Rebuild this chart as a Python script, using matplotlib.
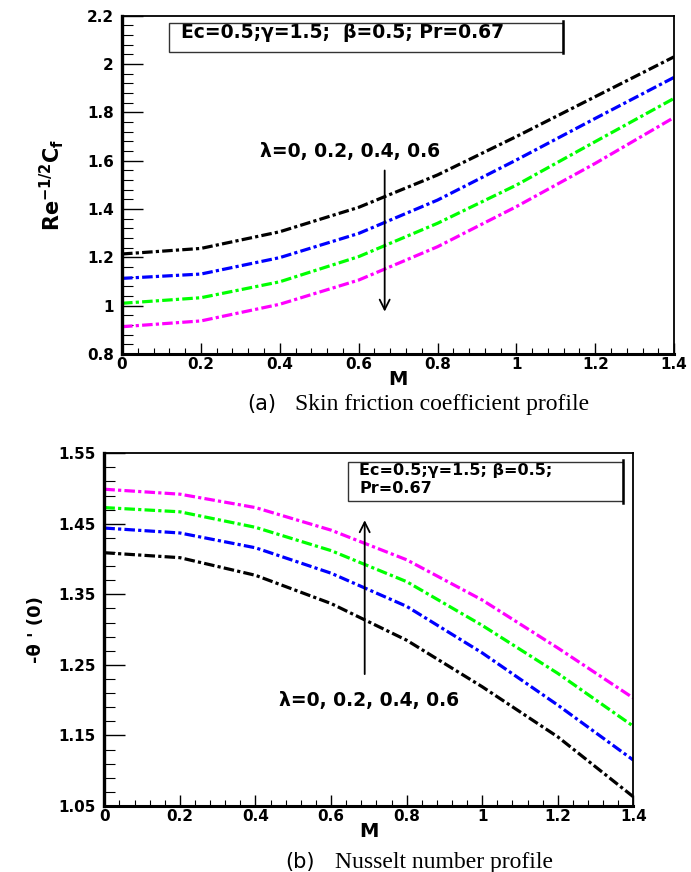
import matplotlib.pyplot as plt
from matplotlib.patches import Rectangle

# M values shared by both panels
M = [0, 0.2, 0.4, 0.6, 0.8, 1.0, 1.2, 1.4]
lam_labels = ["0", "0.2", "0.4", "0.6"]
colors = ["black", "#0000ff", "#00ff00", "#ff00ff"]

# (a) skin friction, one list per lambda
cf_lam0 = [1.214, 1.237, 1.306, 1.407, 1.541, 1.700, 1.865, 2.030]
cf_lam2 = [1.113, 1.131, 1.199, 1.299, 1.437, 1.603, 1.775, 1.945]
cf_lam4 = [1.010, 1.033, 1.099, 1.203, 1.341, 1.499, 1.679, 1.858]
cf_lam6 = [0.913, 0.937, 1.006, 1.106, 1.244, 1.410, 1.589, 1.779]

# (b) Nusselt number, one list per lambda
nu_lam0 = [1.409, 1.402, 1.377, 1.337, 1.285, 1.219, 1.148, 1.063]
nu_lam2 = [1.444, 1.437, 1.416, 1.380, 1.333, 1.267, 1.193, 1.115]
nu_lam4 = [1.473, 1.467, 1.445, 1.412, 1.368, 1.306, 1.238, 1.163]
nu_lam6 = [1.499, 1.492, 1.473, 1.441, 1.399, 1.342, 1.274, 1.203]

xtick_vals = [0, 0.2, 0.4, 0.6, 0.8, 1.0, 1.2, 1.4]
xtick_labels = ["0", "0.2", "0.4", "0.6", "0.8", "1", "1.2", "1.4"]
ytick_a = [0.8, 1.0, 1.2, 1.4, 1.6, 1.8, 2.0, 2.2]
ytick_a_labels = ["0.8", "1", "1.2", "1.4", "1.6", "1.8", "2", "2.2"]
ytick_b = [1.05, 1.15, 1.25, 1.35, 1.45, 1.55]
ytick_b_labels = ["1.05", "1.15", "1.25", "1.35", "1.45", "1.55"]

plt.rcParams['font.family'] = ['DejaVu Sans']
plt.rcParams['mathtext.fontset'] = 'dejavusans'
plt.rcParams['mathtext.default'] = 'bf'

fig = plt.figure(figsize=(6.91, 8.72), dpi=100)
ax1 = fig.add_axes([0.1766, 0.594, 0.799, 0.388])
ax2 = fig.add_axes([0.151, 0.0757, 0.7656, 0.4045])


def style_axes(ax, yticks, ylabels, yminor):
    ax.set_xlim(0, 1.4)
    ax.set_xticks(xtick_vals)
    ax.set_xticklabels(xtick_labels, fontweight='bold', fontsize=11)
    ax.set_xticks([i * 0.04 for i in range(36)], minor=True)
    ax.set_yticks(yticks)
    ax.set_yticklabels(ylabels, fontweight='bold', fontsize=11)
    ax.set_yticks(yminor, minor=True)
    ax.set_ylim(yticks[0], yticks[-1])
    ax.tick_params(axis='x', which='major', direction='in', length=8, width=1, pad=2)
    ax.tick_params(axis='x', which='minor', direction='in', length=4, width=0.8)
    ax.tick_params(axis='y', which='major', direction='in', length=15, width=1, pad=6)
    ax.tick_params(axis='y', which='minor', direction='in', length=8, width=0.8)
    ax.spines['left'].set_linewidth(2.4)
    ax.spines['bottom'].set_linewidth(2.2)
    ax.spines['top'].set_linewidth(1.3)
    ax.spines['right'].set_linewidth(1.3)
    ax.set_xlabel("M", fontweight='bold', fontsize=14, labelpad=-1)


def legend_box(ax, x0, y0, w, h):
    ax.add_patch(Rectangle((x0, y0), w, h, transform=ax.transAxes,
                           fill=False, edgecolor='#333333', lw=1, zorder=5))
    ax.plot([x0 + w, x0 + w], [y0 - 0.005, y0 + h + 0.005], transform=ax.transAxes,
            color='black', lw=1.8, zorder=5)


# panel (a)
series_a = [cf_lam0, cf_lam2, cf_lam4, cf_lam6]
for vals, c in zip(series_a, colors):
    ax1.plot(M, vals, color=c, lw=2.3, dashes=(3.3, 1, 1, 1))
style_axes(ax1, ytick_a, ytick_a_labels, [0.8 + i * 0.04 for i in range(36)])
ax1.set_ylabel("$Re^{-1/2}C_f$", fontsize=15, fontweight='bold', labelpad=15)
legend_box(ax1, 0.085, 0.894, 0.714, 0.085)
ax1.text(0.107, 0.950, "Ec=0.5;\u03b3=1.5;  \u03b2=0.5; Pr=0.67", transform=ax1.transAxes,
         fontsize=13.5, fontweight='bold', va='center', ha='left')
ax1.annotate("", xy=(0.666, 0.964), xytext=(0.666, 1.571),
             arrowprops=dict(arrowstyle='->', lw=1.3, color='black',
                             mutation_scale=18))
ax1.text(0.578, 1.64, "\u03bb=" + ", ".join(lam_labels), fontsize=13.5,
         fontweight='bold', ha='center', va='center')

# panel (b)
series_b = [nu_lam0, nu_lam2, nu_lam4, nu_lam6]
for vals, c in zip(series_b, colors):
    ax2.plot(M, vals, color=c, lw=2.3, dashes=(3.3, 1, 1, 1))
style_axes(ax2, ytick_b, ytick_b_labels, [1.05 + i * 0.02 for i in range(26)])
ax2.set_ylabel("-\u03b8 ' (0)", fontsize=13, fontweight='bold', labelpad=10)
legend_box(ax2, 0.461, 0.865, 0.52, 0.111)
ax2.text(0.482, 0.952, "Ec=0.5;\u03b3=1.5; \u03b2=0.5;", transform=ax2.transAxes,
         fontsize=11.5, fontweight='bold', va='center', ha='left')
ax2.text(0.482, 0.899, "Pr=0.67", transform=ax2.transAxes,
         fontsize=11.5, fontweight='bold', va='center', ha='left')
ax2.annotate("", xy=(0.689, 1.459), xytext=(0.689, 1.233),
             arrowprops=dict(arrowstyle='->', lw=1.3, color='black',
                             mutation_scale=18))
ax2.text(0.70, 1.199, "\u03bb=" + ", ".join(lam_labels), fontsize=13.5,
         fontweight='bold', ha='center', va='center')

# captions
fig.text(262 / 691, 1 - 404 / 872, "(a)", fontsize=15, ha='center', va='center')
fig.text(295 / 691, 1 - 404 / 872, "Skin friction coefficient profile", fontsize=17,
         family='Liberation Serif', ha='left', va='center')
fig.text(300 / 691, 1 - 862 / 872, "(b)", fontsize=15, ha='center', va='center')
fig.text(335 / 691, 1 - 862 / 872, "Nusselt number profile", fontsize=17,
         family='Liberation Serif', ha='left', va='center')

fig.savefig("out.png", dpi=100)
